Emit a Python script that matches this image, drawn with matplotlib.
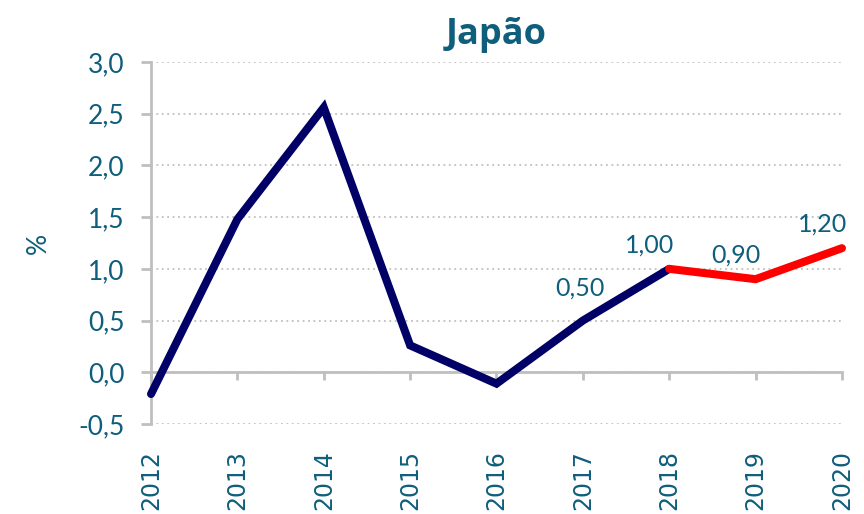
import matplotlib
matplotlib.use("Agg")
import matplotlib.pyplot as plt
import numpy as np

# Japão - variação anual (%)
years = [2012, 2013, 2014, 2015, 2016, 2017, 2018, 2019, 2020]
values = [-0.21, 1.48, 2.56, 0.26, -0.11, 0.50, 1.00, 0.90, 1.20]
split_year = 2018  # from here on the line is red (projection)
labelled_years = [2017, 2018, 2019, 2020]
yticks = [-0.5, 0.0, 0.5, 1.0, 1.5, 2.0, 2.5, 3.0]

text_color = '#0F5E7C'
navy = '#000066'
red = '#FF0000'
gray = '#BFBFBF'

fig = plt.figure(figsize=(8.64, 5.14), dpi=100)
ax = fig.add_axes([0.1748, 0.1751, 0.7997, 0.7043])

years_arr = np.array(years)
vals_arr = np.array(values)
i_split = years.index(split_year)

ax.plot(years_arr[:i_split + 1], vals_arr[:i_split + 1], color=navy, lw=5.8,
        solid_capstyle='round', solid_joinstyle='miter', clip_on=False, zorder=3)
ax.plot(years_arr[i_split:], vals_arr[i_split:], color=red, lw=5.8,
        solid_capstyle='round', solid_joinstyle='miter', clip_on=False, zorder=3)

# data labels (blue ones sit a bit higher above the line, as in the source)
for y in labelled_years:
    v = values[years.index(y)]
    if y < split_year:
        off_x, off_y = -2, 15
    else:
        off_x, off_y = -14, 9
    ax.annotate(f"{v:.2f}".replace('.', ','), (y, v), xytext=(off_x, off_y),
                textcoords='offset points', ha='center', va='bottom',
                fontsize=18, color=text_color, family='Lato')

# spines first: moving the bottom spine resets the tick labels
for s in ['top', 'right']:
    ax.spines[s].set_visible(False)
ax.spines['left'].set_color(gray)
ax.spines['left'].set_linewidth(2)
ax.spines['bottom'].set_position(('data', 0))
ax.spines['bottom'].set_color(gray)
ax.spines['bottom'].set_linewidth(2)

ax.set_xlim(2012, 2020)
ax.set_ylim(-0.5, 3.0)
ax.set_yticks(yticks)
ax.set_yticklabels([f"{t:.1f}".replace('.', ',') for t in yticks],
                   fontsize=19, color=text_color, family='Lato')
ax.set_xticks(years)
ax.set_xticklabels([str(y) for y in years], rotation=90, fontsize=17,
                   color=text_color, family='DejaVu Sans')

ax.grid(axis='y', color=gray, linestyle=(0, (1, 2)), lw=1.3)
ax.set_axisbelow(True)

ax.tick_params(axis='y', direction='out', length=7, width=2, color=gray, pad=12)
ax.tick_params(axis='x', direction='out', length=6, width=2, color=gray, pad=50)

ax.set_ylabel('%', fontsize=19, color=text_color, family='Lato', labelpad=20)
ax.set_title('Japão', fontsize=26, fontweight='bold', color=text_color,
             family='Open Sans', pad=13)

fig.savefig('out.png', dpi=100)
